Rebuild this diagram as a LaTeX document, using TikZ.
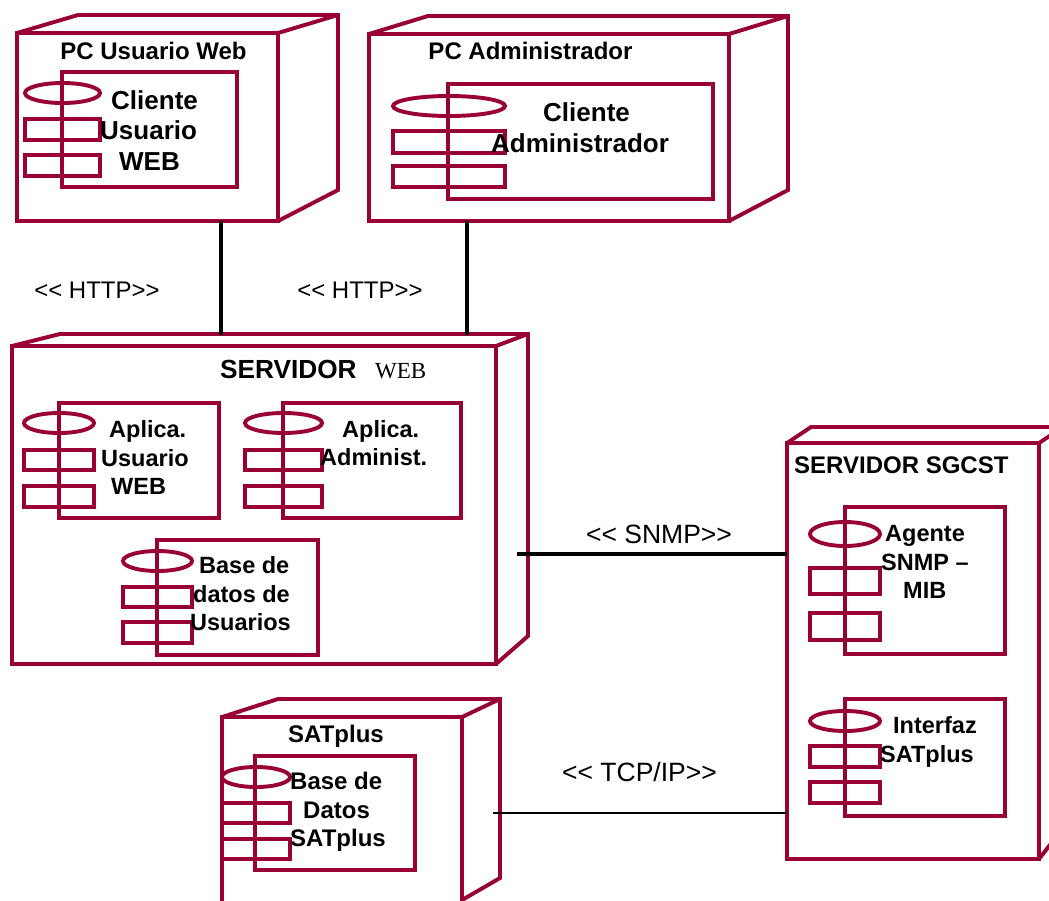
\documentclass[tikz,border=0pt]{standalone}
\usepackage{fontspec}
\setmainfont{Liberation Sans}
\newfontfamily\timesfont{Liberation Serif}
\definecolor{umlmaroon}{RGB}{153,0,51}
\tikzset{line/.style={umlmaroon,line width=3.9pt,line join=miter}}
\tikzset{box/.style 2 args={draw=umlmaroon,line width=3.9pt,rectangle,inner sep=0pt,outer sep=0pt,minimum width=#1,minimum height=#2}}
\tikzset{tab/.style={draw=umlmaroon,line width=3.9pt,ellipse,inner sep=0pt,outer sep=0pt,minimum width=#1,minimum height=20}}
\tikzset{wire/.style={black,line width=3.6pt}}
\tikzset{thinwire/.style={black,line width=1.8pt}}
\tikzset{pctitle/.style={font=\bfseries\fontsize{24}{28.5}\selectfont,align=center}}
\tikzset{title/.style={font=\bfseries\fontsize{23.5}{28.5}\selectfont,align=left,anchor=west,inner sep=0pt}}
\tikzset{widetitle/.style={title,font=\bfseries\fontsize{24}{28.5}\selectfont}}
\tikzset{bigtitle/.style={font=\bfseries\fontsize{26}{30.5}\selectfont,align=left,anchor=west,inner sep=0pt}}
\tikzset{stereo/.style={font=\fontsize{24}{28}\selectfont}}
\tikzset{bigstereo/.style={font=\fontsize{26.5}{30}\selectfont}}
\newcommand{\ind}[1]{\hspace*{#1pt}}
\usetikzlibrary{shapes}
\begin{document}
\begin{tikzpicture}[x=1pt,y=-1pt]
  \clip (0,0) rectangle (1049,900);
  % Devices
  \node[box={261}{188}] (pcweb) at (147.5,127) {};
  \draw[line] (pcweb.north west) -- ++(61,-18) -- ++(260,0) -- ++(0,175) -- (pcweb.south east);
  \draw[line] (pcweb.north east) -- ++(60,-18);
  \node[box={360}{187}] (pcadmin) at (549,127.5) {};
  \draw[line] (pcadmin.north west) -- ++(59,-18) -- ++(360,0) -- ++(0,174) -- (pcadmin.south east);
  \draw[line] (pcadmin.north east) -- ++(59,-18);
  \node[box={484}{318}] (webserv) at (254,505) {};
  \draw[line] (webserv.north west) -- ++(48,-12) -- ++(468,0) -- ++(0,302) -- (webserv.south east);
  \draw[line] (webserv.north east) -- ++(32,-12);
  \node[box={252}{416}] (sgcst) at (913,651) {};
  \draw[line] (sgcst.north west) -- ++(24,-16) -- ++(252,0) -- ++(0,401) -- (sgcst.south east);
  \draw[line] (sgcst.north east) -- ++(24,-16);
  \node[box={240}{226}] (satplus) at (342,830) {};
  \draw[line] (satplus.north west) -- ++(56,-18) -- ++(222,0) -- ++(0,179) -- ++(-38,22);
  \draw[line] (satplus.north east) -- ++(38,-18);

  % Components
  \node[box={175}{115}] (cliweb) at (149.5,129.5) {};
  \node[tab=75] (cliwebe) at (62.5,93) {};
  \node[box={75}{21}] (cliweba) at (62.5,129.5) {};
  \node[box={75}{21}] (cliwebb) at (62.5,165.5) {};

  \node[box={265}{115}] (cliadm) at (580.5,141.5) {};
  \node[tab=112] (cliadme) at (449,106) {};
  \node[box={112}{22}] (cliadma) at (449,142) {};
  \node[box={112}{21}] (cliadmb) at (449,176.5) {};

  \node[box={160}{115}] (apweb) at (139,460.5) {};
  \node[tab=70] (apwebe) at (59,423) {};
  \node[box={70}{20}] (apweba) at (59,460) {};
  \node[box={70}{21}] (apwebb) at (59,496.5) {};

  \node[box={178}{115}] (apadm) at (372,460.5) {};
  \node[tab=77] (apadme) at (283.5,423) {};
  \node[box={77}{20}] (apadma) at (283.5,460) {};
  \node[box={77}{21}] (apadmb) at (283.5,496.5) {};

  \node[box={161}{115}] (basusr) at (237.5,597.5) {};
  \node[tab=69] (basusre) at (157.5,561) {};
  \node[box={69}{20}] (basusra) at (157.5,597) {};
  \node[box={69}{21}] (basusrb) at (157.5,632.5) {};

  \node[box={160}{147}] (agente) at (925,580.5) {};
  \node[tab=70,minimum height=24] (agentee) at (845,534) {};
  \node[box={70}{26}] (agentea) at (845,581) {};
  \node[box={70}{27}] (agenteb) at (845,626.5) {};

  \node[box={160}{117}] (interfaz) at (925,757.5) {};
  \node[tab=70] (interfaze) at (845,721) {};
  \node[box={70}{21}] (interfaza) at (845,756.5) {};
  \node[box={70}{21}] (interfazb) at (845,792.5) {};

  \node[box={160}{114}] (bassat) at (335,813) {};
  \node[tab=68] (bassate) at (256,777) {};
  \node[box={68}{20}] (bassata) at (256,813) {};
  \node[box={68}{20}] (bassatb) at (256,849) {};

  % Links
  \draw[wire] ([xshift=73.5]pcweb.south) -- ([xshift=73.5,yshift=11]pcweb.south |- webserv.north);
  \draw[wire] ([xshift=-82]pcadmin.south) -- ([xshift=-82,yshift=11]pcadmin.south |- webserv.north);
  \coordinate (snmpa) at (517,554);
  \draw[wire] (snmpa) -- (snmpa -| sgcst.west);
  \coordinate (tcpa) at (493,813);
  \draw[thinwire] (tcpa) -- (tcpa -| sgcst.west);

  % Labels
  \node[pctitle] (pcwebt) at (153.5,51) {PC Usuario Web};
  \node[bigtitle] (cliwebt) at (100,130.5) {\ind{11}Cliente\\Usuario\\\ind{19}WEB};
  \node[pctitle] (pcadmint) at (530.5,51) {PC Administrador};
  \node[bigtitle] (cliadmt) at (491,127.5) {\ind{52}Cliente\\Administrador};
  \node[stereo] (httpat) at (97,290) {<{}< HTTP>{}>};
  \node[stereo] (httpbt) at (360,290) {<{}< HTTP>{}>};
  \node[font=\bfseries\fontsize{26.2}{30}\selectfont,anchor=base west,inner sep=0pt] (webservt) at (220,378) {SERVIDOR};
  \node[font=\timesfont\fontsize{23}{28}\selectfont,anchor=base west,inner sep=0pt] (webservw) at (375,378) {WEB};
  \node[title] (apwebt) at (101,457.5) {\ind{8}Aplica.\\Usuario\\\ind{10}WEB};
  \node[title] (apadmt) at (320,443) {\ind{22}Aplica.\\Administ.};
  \node[title] (basusrt) at (190,594) {\ind{9}Base de\\\ind{3}datos de\\Usuarios};
  \node[widetitle] (sgcstt) at (794,465) {SERVIDOR SGCST};
  \node[title] (agentet) at (881,562) {\ind{4}Agente\\SNMP --\\\ind{22}MIB};
  \node[title] (interfazt) at (880,742) {\ind{13}Interfaz\\SATplus};
  \node[pctitle] (satplust) at (336,736) {SATplus};
  \node[widetitle] (bassatt) at (290,812) {Base de\\\ind{13}Datos\\SATplus};
  \node[bigstereo] (snmpt) at (659,534) {<{}< SNMP>{}>};
  \node[bigstereo] (tcpt) at (639.5,772) {<{}< TCP/IP>{}>};
\end{tikzpicture}
\end{document}
